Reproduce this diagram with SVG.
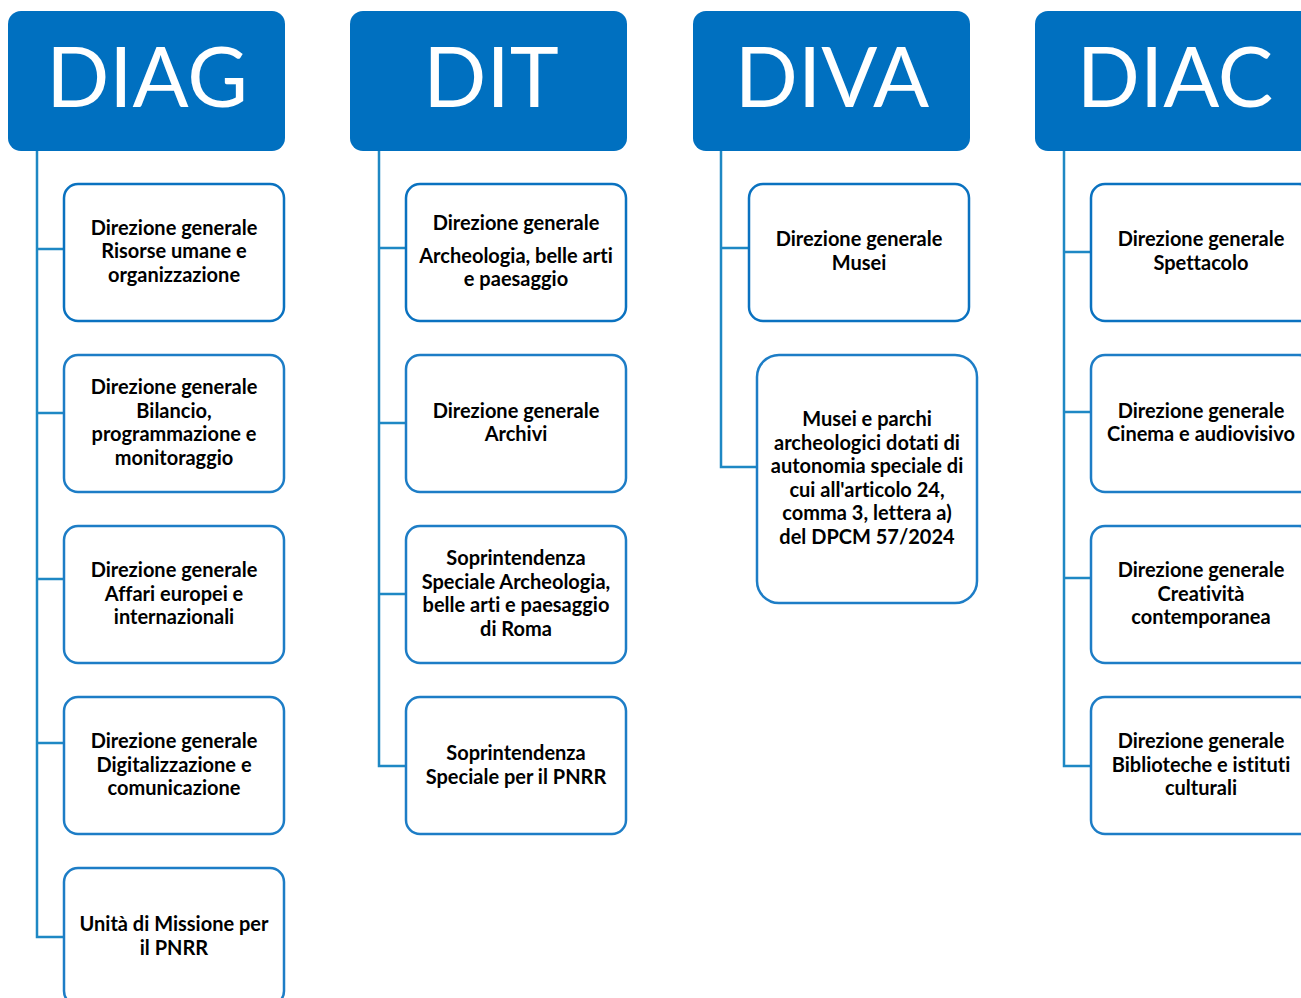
<svg xmlns="http://www.w3.org/2000/svg" width="1301" height="998" viewBox="0 0 1301 998">
<style>
.hdr{fill:#0070C0;}
.hdrt{fill:#fff;font-family:Lato,"Open Sans","Liberation Sans",sans-serif;font-size:83px;text-anchor:middle;font-variant-ligatures:none;}
.box{fill:#fff;stroke:#1D7DC6;stroke-width:2.5;}
.box1{fill:#fff;stroke:#0A72C0;stroke-width:2.5;}
.t{fill:#000;font-family:Lato,"Open Sans","Liberation Sans",sans-serif;font-weight:bold;font-size:20px;text-anchor:middle;font-variant-ligatures:none;}
.con{fill:none;stroke:#1E88C4;stroke-width:2.5;}
</style>
<rect width="1301" height="998" fill="#fff"/>
<g id="connectors">
<path class="con" d="M37 151V937H64M37 249H64M37 413H64M37 579H64M37 743H64"/>
<path class="con" d="M379 151V766H406M379 248H406M379 423H406M379 594H406"/>
<path class="con" d="M721 151V467H757M721 248H749"/>
<path class="con" d="M1064 151V766H1091M1064 252H1091M1064 412H1091M1064 578H1091"/>
</g>
<g id="diag"><rect class="hdr" x="8" y="11" width="277" height="140" rx="13"/><text class="hdrt" x="147" y="107">DIAG</text></g>
<g id="dit"><rect class="hdr" x="350" y="11" width="277" height="140" rx="13"/><text class="hdrt" x="491" y="107">DIT</text></g>
<g id="diva"><rect class="hdr" x="693" y="11" width="277" height="140" rx="13"/><text class="hdrt" x="832" y="107">DIVA</text></g>
<g id="diac"><rect class="hdr" x="1035" y="11" width="280" height="140" rx="13"/><text class="hdrt" x="1175" y="107">DIAC</text></g>

<g id="diag-1"><rect class="box1" x="64" y="184" width="220" height="137" rx="14"/>
<text class="t" x="174" y="235">Direzione generale</text><text class="t" x="174" y="258">Risorse umane e</text><text class="t" x="174" y="282">organizzazione</text></g>
<g id="diag-2"><rect class="box" x="64" y="355" width="220" height="137" rx="14"/>
<text class="t" x="174" y="394">Direzione generale</text><text class="t" x="174" y="418">Bilancio,</text><text class="t" x="174" y="441">programmazione e</text><text class="t" x="174" y="465">monitoraggio</text></g>
<g id="diag-3"><rect class="box" x="64" y="526" width="220" height="137" rx="14"/>
<text class="t" x="174" y="577">Direzione generale</text><text class="t" x="174" y="601">Affari europei e</text><text class="t" x="174" y="624">internazionali</text></g>
<g id="diag-4"><rect class="box" x="64" y="697" width="220" height="137" rx="14"/>
<text class="t" x="174" y="748">Direzione generale</text><text class="t" x="174" y="772">Digitalizzazione e</text><text class="t" x="174" y="795">comunicazione</text></g>
<g id="diag-5"><rect class="box" x="64" y="868" width="220" height="137" rx="14"/>
<text class="t" x="174" y="931">Unità di Missione per</text><text class="t" x="174" y="955">il PNRR</text></g>

<g id="dit-1"><rect class="box1" x="406" y="184" width="220" height="137" rx="14"/>
<text class="t" x="516" y="230">Direzione generale</text><text class="t" x="516" y="263">Archeologia, belle arti</text><text class="t" x="516" y="286">e paesaggio</text></g>
<g id="dit-2"><rect class="box" x="406" y="355" width="220" height="137" rx="14"/>
<text class="t" x="516" y="418">Direzione generale</text><text class="t" x="516" y="441">Archivi</text></g>
<g id="dit-3"><rect class="box" x="406" y="526" width="220" height="137" rx="14"/>
<text class="t" x="516" y="565">Soprintendenza</text><text class="t" x="516" y="589">Speciale Archeologia,</text><text class="t" x="516" y="612">belle arti e paesaggio</text><text class="t" x="516" y="636">di Roma</text></g>
<g id="dit-4"><rect class="box" x="406" y="697" width="220" height="137" rx="14"/>
<text class="t" x="516" y="760">Soprintendenza</text><text class="t" x="516" y="784">Speciale per il PNRR</text></g>

<g id="diva-1"><rect class="box1" x="749" y="184" width="220" height="137" rx="14"/>
<text class="t" x="859" y="246">Direzione generale</text><text class="t" x="859" y="270">Musei</text></g>
<g id="diva-2"><rect class="box" x="757" y="355" width="220" height="248" rx="22"/>
<text class="t" x="867" y="426">Musei e parchi</text><text class="t" x="867" y="450">archeologici dotati di</text><text class="t" x="867" y="473">autonomia speciale di</text><text class="t" x="867" y="497">cui all'articolo 24,</text><text class="t" x="867" y="520">comma 3, lettera a)</text><text class="t" x="867" y="544">del DPCM 57/2024</text></g>

<g id="diac-1"><rect class="box1" x="1091" y="184" width="222" height="137" rx="14"/>
<text class="t" x="1201" y="246">Direzione generale</text><text class="t" x="1201" y="270">Spettacolo</text></g>
<g id="diac-2"><rect class="box" x="1091" y="355" width="222" height="137" rx="14"/>
<text class="t" x="1201" y="418">Direzione generale</text><text class="t" x="1201" y="441">Cinema e audiovisivo</text></g>
<g id="diac-3"><rect class="box" x="1091" y="526" width="222" height="137" rx="14"/>
<text class="t" x="1201" y="577">Direzione generale</text><text class="t" x="1201" y="601">Creatività</text><text class="t" x="1201" y="624">contemporanea</text></g>
<g id="diac-4"><rect class="box" x="1091" y="697" width="222" height="137" rx="14"/>
<text class="t" x="1201" y="748">Direzione generale</text><text class="t" x="1201" y="772">Biblioteche e istituti</text><text class="t" x="1201" y="795">culturali</text></g>
</svg>
